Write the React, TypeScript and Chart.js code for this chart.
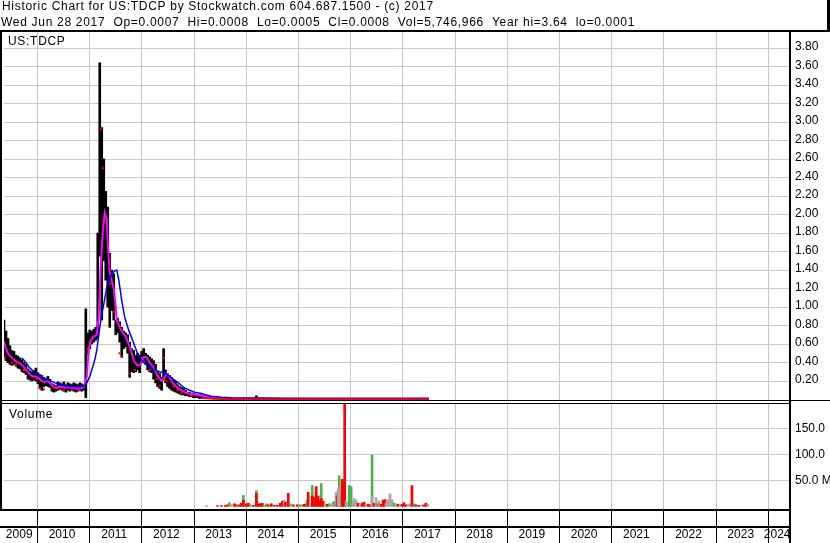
import React, { useEffect, useRef } from 'react';
import { Chart, registerables } from 'chart.js';

Chart.register(...registerables);

// ---------- header text ----------
const titleLine = 'Historic Chart for US:TDCP by Stockwatch.com 604.687.1500 - (c) 2017';
const quoteLine = 'Wed Jun 28 2017  Op=0.0007  Hi=0.0008  Lo=0.0005  Cl=0.0008  Vol=5,746,966  Year hi=3.64  lo=0.0001';
const priceTitle = 'US:TDCP';
const volumeTitle = 'Volume';

// ---------- axis labels ----------
const yearLabels = ['2009', '2010', '2011', '2012', '2013', '2014', '2015', '2016', '2017', '2018', '2019', '2020', '2021', '2022', '2023', '2024'];
const priceTicks = [0.2, 0.4, 0.6, 0.8, 1.0, 1.2, 1.4, 1.6, 1.8, 2.0, 2.2, 2.4, 2.6, 2.8, 3.0, 3.2, 3.4, 3.6, 3.8];
const volumeTicks = [50, 100, 150];

// ---------- price bars (high / low), dates in decimal years ----------
const priceDates = [
  2009.360, 2009.398, 2009.436, 2009.475, 2009.513, 2009.551, 2009.589, 2009.627, 2009.666, 2009.704,
  2009.742, 2009.780, 2009.819, 2009.857, 2009.895, 2009.933, 2009.971, 2010.010, 2010.048, 2010.086,
  2010.124, 2010.162, 2010.201, 2010.239, 2010.277, 2010.315, 2010.353, 2010.392, 2010.430, 2010.468,
  2010.506, 2010.545, 2010.583, 2010.621, 2010.659, 2010.697, 2010.736, 2010.774, 2010.812, 2010.850,
  2010.888, 2010.927, 2010.965, 2011.003, 2011.041, 2011.080, 2011.118, 2011.156, 2011.194, 2011.232,
  2011.271, 2011.309, 2011.347, 2011.385, 2011.423, 2011.462, 2011.500, 2011.538, 2011.576, 2011.615,
  2011.653, 2011.691, 2011.729, 2011.767, 2011.806, 2011.844, 2011.882, 2011.920, 2011.958, 2011.997,
  2012.035, 2012.073, 2012.111, 2012.150, 2012.188, 2012.226, 2012.264, 2012.302, 2012.341, 2012.379,
  2012.417, 2012.455, 2012.493, 2012.532, 2012.570, 2012.608, 2012.646, 2012.685, 2012.723, 2012.761,
  2012.799, 2012.837, 2012.876, 2012.914, 2012.952, 2012.990, 2013.028, 2013.067, 2013.105, 2013.143,
  2013.219, 2013.296, 2013.372, 2013.449, 2013.525, 2013.621, 2013.716, 2013.831, 2013.945, 2014.060,
  2014.194, 2014.327, 2014.480,
];
const priceHigh = [
  0.86, 0.74, 0.66, 0.58, 0.53, 0.52, 0.48, 0.47, 0.45, 0.43,
  0.40, 0.38, 0.33, 0.31, 0.30, 0.31, 0.34, 0.29, 0.27, 0.26,
  0.24, 0.23, 0.25, 0.22, 0.17, 0.16, 0.15, 0.19, 0.18, 0.17,
  0.19, 0.16, 0.18, 0.17, 0.16, 0.18, 0.17, 0.16, 0.18, 0.17,
  0.16, 0.98, 0.72, 0.75, 0.74, 0.76, 0.78, 1.80, 3.64, 2.94,
  2.60, 2.25, 2.08, 1.58, 1.40, 1.36, 0.86, 0.88, 0.84, 0.78,
  0.74, 0.72, 0.70, 0.62, 0.55, 0.53, 0.48, 0.50, 0.48, 0.52,
  0.55, 0.50, 0.48, 0.46, 0.44, 0.42, 0.38, 0.30, 0.28, 0.24,
  0.55, 0.32, 0.28, 0.26, 0.24, 0.21, 0.19, 0.16, 0.14, 0.13,
  0.12, 0.10, 0.08, 0.08, 0.07, 0.07, 0.06, 0.05, 0.05, 0.05,
  0.04, 0.03, 0.03, 0.02, 0.02, 0.015, 0.012, 0.010, 0.010, 0.010,
  0.040, 0.010, 0.008,
];
const priceLow = [
  0.45, 0.42, 0.40, 0.38, 0.37, 0.38, 0.36, 0.34, 0.33, 0.30,
  0.29, 0.27, 0.22, 0.21, 0.20, 0.21, 0.20, 0.17, 0.12, 0.10,
  0.14, 0.15, 0.14, 0.13, 0.09, 0.08, 0.09, 0.10, 0.11, 0.10,
  0.09, 0.08, 0.10, 0.09, 0.10, 0.09, 0.08, 0.09, 0.10, 0.09,
  0.10, 0.02, 0.48, 0.55, 0.60, 0.62, 0.64, 0.66, 1.55, 0.86,
  1.50, 1.29, 1.00, 0.78, 0.96, 0.86, 0.70, 0.72, 0.62, 0.46,
  0.55, 0.57, 0.50, 0.24, 0.30, 0.29, 0.30, 0.32, 0.29, 0.40,
  0.42, 0.38, 0.32, 0.30, 0.29, 0.22, 0.18, 0.14, 0.12, 0.10,
  0.24, 0.18, 0.14, 0.12, 0.10, 0.09, 0.08, 0.07, 0.06, 0.05,
  0.05, 0.04, 0.04, 0.03, 0.03, 0.02, 0.02, 0.02, 0.01, 0.01,
  0.010, 0.010, 0.005, 0.005, 0.004, 0.003, 0.003, 0.003, 0.002, 0.002,
  0.002, 0.002, 0.002,
];

// red close ticks seen on the bars
const closeTickDates = [
  2009.360, 2009.379, 2009.513, 2009.589, 2009.742, 2009.991, 2010.048, 2010.124, 2010.373, 2010.506,
  2010.659, 2010.793, 2010.965, 2011.003, 2011.137, 2011.213, 2011.251, 2011.328, 2011.385, 2011.462,
  2011.576, 2011.615, 2011.767, 2011.863, 2011.997, 2012.150, 2012.283, 2012.341, 2012.417, 2012.474,
  2012.608, 2012.685, 2012.761, 2012.952,
];
const closeTickValues = [
  0.62, 0.45, 0.40, 0.38, 0.32, 0.22, 0.12, 0.11, 0.12, 0.10,
  0.11, 0.10, 0.55, 0.62, 0.72, 2.92, 2.50, 1.95, 1.25, 0.95,
  0.50, 0.46, 0.28, 0.32, 0.45, 0.32, 0.22, 0.15, 0.45, 0.20,
  0.14, 0.10, 0.07, 0.04,
];

// late closes (price near zero, 2013-2017)
const lateCloseDates = [2013.143, 2013.334, 2013.525, 2013.716, 2014.098, 2014.671, 2015.627, 2016.582, 2017.499];
const lateCloseValues = [0.020, 0.010, 0.006, 0.003, 0.002, 0.002, 0.002, 0.002, 0.002];

// short moving average (magenta)
const maShortDates = [
  2009.360, 2009.398, 2009.436, 2009.475, 2009.513, 2009.570, 2009.627, 2009.685, 2009.742, 2009.799,
  2009.857, 2009.914, 2009.971, 2010.029, 2010.086, 2010.143, 2010.201, 2010.258, 2010.315, 2010.373,
  2010.430, 2010.506, 2010.583, 2010.659, 2010.736, 2010.812, 2010.888, 2010.946, 2010.984, 2011.022,
  2011.080, 2011.137, 2011.175, 2011.213, 2011.251, 2011.290, 2011.328, 2011.347, 2011.385, 2011.423,
  2011.462, 2011.500, 2011.519, 2011.576, 2011.634, 2011.691, 2011.748, 2011.806, 2011.863, 2011.920,
  2011.977, 2012.035, 2012.092, 2012.150, 2012.207, 2012.264, 2012.321, 2012.379, 2012.417, 2012.474,
  2012.532, 2012.589, 2012.646, 2012.704, 2012.761, 2012.857, 2012.952, 2013.047, 2013.143, 2013.334,
  2013.525, 2013.812, 2014.194, 2014.671, 2015.436, 2016.582, 2017.499,
];
const maShortValues = [
  0.62, 0.55, 0.50, 0.47, 0.45, 0.42, 0.40, 0.38, 0.35, 0.31,
  0.27, 0.25, 0.25, 0.23, 0.20, 0.19, 0.20, 0.17, 0.13, 0.13,
  0.14, 0.13, 0.13, 0.13, 0.12, 0.12, 0.13, 0.25, 0.55, 0.64,
  0.68, 0.70, 0.90, 1.45, 1.80, 2.02, 1.95, 1.70, 1.38, 1.28,
  1.20, 1.00, 0.86, 0.78, 0.72, 0.68, 0.60, 0.50, 0.40, 0.37,
  0.38, 0.46, 0.46, 0.40, 0.36, 0.30, 0.24, 0.20, 0.22, 0.28,
  0.24, 0.18, 0.15, 0.12, 0.10, 0.07, 0.06, 0.05, 0.04, 0.025,
  0.015, 0.010, 0.012, 0.008, 0.006, 0.005, 0.005,
];

// long moving average (blue)
const maLongDates = [
  2009.704, 2009.780, 2009.838, 2009.895, 2009.952, 2010.029, 2010.086, 2010.162, 2010.220, 2010.334,
  2010.468, 2010.602, 2010.736, 2010.850, 2010.908, 2010.946, 2011.003, 2011.041, 2011.099, 2011.137,
  2011.194, 2011.232, 2011.271, 2011.328, 2011.385, 2011.423, 2011.481, 2011.519, 2011.557, 2011.615,
  2011.672, 2011.748, 2011.844, 2011.939, 2012.054, 2012.150, 2012.245, 2012.341, 2012.436, 2012.532,
  2012.627, 2012.723, 2012.818, 2012.914, 2013.009, 2013.143, 2013.238, 2013.334, 2013.525, 2013.716,
  2014.003, 2014.289, 2014.671, 2015.436, 2016.582, 2017.499,
];
const maLongValues = [
  0.45, 0.40, 0.35, 0.32, 0.30, 0.27, 0.24, 0.22, 0.21, 0.18,
  0.16, 0.14, 0.14, 0.14, 0.15, 0.18, 0.25, 0.32, 0.43, 0.53,
  0.78, 0.92, 1.03, 1.21, 1.30, 1.36, 1.39, 1.40, 1.30, 1.07,
  0.89, 0.75, 0.61, 0.46, 0.39, 0.35, 0.32, 0.30, 0.29, 0.25,
  0.21, 0.17, 0.125, 0.10, 0.08, 0.065, 0.05, 0.035, 0.025, 0.02,
  0.017, 0.016, 0.015, 0.015, 0.015, 0.015,
];

// ---------- volume (millions), direction: u = up, d = down, n = unchanged ----------
const volumeDates = [
  2013.239, 2013.449, 2013.525, 2013.601, 2013.640, 2013.678, 2013.716, 2013.773, 2013.812, 2013.869,
  2013.907, 2013.945, 2013.945, 2014.003, 2014.041, 2014.079, 2014.136, 2014.194, 2014.194, 2014.232,
  2014.270, 2014.308, 2014.347, 2014.385, 2014.423, 2014.480, 2014.538, 2014.595, 2014.652, 2014.691,
  2014.729, 2014.748, 2014.786, 2014.805, 2014.843, 2014.901, 2014.977, 2015.034, 2015.073, 2015.111,
  2015.149, 2015.168, 2015.187, 2015.226, 2015.264, 2015.264, 2015.302, 2015.340, 2015.378, 2015.397,
  2015.436, 2015.436, 2015.474, 2015.512, 2015.550, 2015.589, 2015.627, 2015.665, 2015.684, 2015.722,
  2015.741, 2015.760, 2015.780, 2015.780, 2015.799, 2015.837, 2015.856, 2015.885, 2015.913, 2015.952,
  2015.971, 2016.009, 2016.047, 2016.066, 2016.104, 2016.143, 2016.181, 2016.219, 2016.257, 2016.295,
  2016.334, 2016.372, 2016.410, 2016.410, 2016.448, 2016.487, 2016.525, 2016.544, 2016.582, 2016.620,
  2016.658, 2016.678, 2016.716, 2016.754, 2016.792, 2016.830, 2016.869, 2016.907, 2016.945, 2016.983,
  2017.021, 2017.060, 2017.098, 2017.136, 2017.174, 2017.213, 2017.251, 2017.308, 2017.365, 2017.404,
  2017.442, 2017.480,
];
const volumeValues = [
  1, 1.5, 1.5, 2, 3, 7, 3, 5, 3, 3,
  6, 21, 12, 5, 6, 3, 2, 30, 25, 5,
  5, 6, 2, 5, 3, 5, 2, 2, 6, 10,
  12, 8, 4, 25, 5, 3, 3, 3, 3, 4,
  5, 12, 27, 6, 40, 20, 17, 38, 20, 13,
  44, 15, 10, 5, 4, 5, 5, 8, 9, 27,
  20, 35, 59, 35, 38, 52, 48, 230, 10, 8,
  40, 38, 10, 15, 12, 6, 4, 6, 8, 3,
  4, 3, 99, 19, 6, 17, 5, 10, 4, 12,
  13, 6, 13, 24, 13, 6, 5, 4, 3, 4,
  7, 3, 4, 5, 40, 5, 3, 2, 2, 3,
  6, 4,
];
const volumeDirections = [
  'u', 'd', 'd', 'd', 'd', 'u', 'n', 'd', 'd', 'd',
  'd', 'u', 'd', 'd', 'd', 'u', 'd', 'u', 'd', 'd',
  'd', 'd', 'u', 'u', 'd', 'd', 'd', 'd', 'd', 'd',
  'n', 'd', 'u', 'd', 'u', 'd', 'd', 'u', 'u', 'd',
  'd', 'u', 'd', 'n', 'u', 'd', 'd', 'd', 'd', 'd',
  'u', 'd', 'd', 'n', 'd', 'u', 'n', 'n', 'u', 'n',
  'd', 'n', 'u', 'n', 'n', 'd', 'd', 'd', 'n', 'n',
  'u', 'u', 'n', 'n', 'n', 'd', 'n', 'd', 'd', 'n',
  'd', 'd', 'u', 'n', 'd', 'n', 'd', 'n', 'd', 'd',
  'd', 'n', 'n', 'n', 'n', 'u', 'n', 'd', 'n', 'd',
  'd', 'd', 'n', 'n', 'd', 'u', 'd', 'd', 'n', 'd',
  'd', 'n',
];

// ---------- axis ranges ----------
const X_MIN = 2009.36;
const X_MAX = 2024.396;
const PRICE_MIN = -0.016;
const PRICE_MAX = 3.973;
const VOL_MIN = -7;
const VOL_MAX = 202.6;

const FONT = '"Liberation Sans", Arial, Helvetica, sans-serif';
const GRID = '#c8c8c8';
const DIR_COLORS: Record<string, string> = { u: '#4fb04f', d: '#ff0000', n: '#a8a8a8' };

const framePlugin = {
  id: 'stockFrame',
  beforeDatasetsDraw(chart: any) {
    const { ctx, chartArea, scales } = chart;
    const x = scales.x;
    ctx.save();
    ctx.fillStyle = GRID;
    for (let yr = Math.ceil(X_MIN); yr <= X_MAX; yr++) {
      const px = Math.floor(x.getPixelForValue(yr));
      ctx.fillRect(px, chartArea.top, 1, chartArea.bottom - chartArea.top);
    }
    ctx.restore();
  },
  afterDraw(chart: any) {
    const { ctx, chartArea, scales, width, height } = chart;
    const x = scales.x;
    const right = chartArea.right;
    ctx.save();
    // header
    ctx.fillStyle = '#000';
    ctx.fillRect(0, 30, width, 2);
    ctx.fillRect(width - 3, 0, 3, 31);
    ctx.font = '12px ' + FONT;
    ctx.textBaseline = 'alphabetic';
    ctx.textAlign = 'left';
    (ctx as any).letterSpacing = '0.7px';
    ctx.fillText(titleLine, 2, 10);
    ctx.fillText(quoteLine, 1, 26);
    // panel separators
    ctx.fillStyle = '#fff';
    ctx.fillRect(0, 401, right, 2);
    ctx.fillStyle = '#000';
    ctx.fillRect(0, 400, width, 1);
    ctx.fillRect(0, 403, right, 1);
    ctx.fillRect(0, 509, right, 2);
    ctx.fillRect(0, 526, right, 2);
    // left border and axis separator
    ctx.fillRect(0, 31, 2, 479);
    ctx.fillRect(right, 31, 2, height - 31);
    // year dividers in the bottom rows
    for (let yr = Math.ceil(X_MIN); yr <= X_MAX; yr++) {
      const px = Math.floor(x.getPixelForValue(yr));
      ctx.fillRect(px, 511, 1, height - 511);
    }
    // panel titles
    ctx.fillText(priceTitle, 8, 45);
    ctx.fillText(volumeTitle, 9, 418);
    (ctx as any).letterSpacing = '0px';
    ctx.restore();
  },
};

export default function App() {
  const ref = useRef<HTMLCanvasElement>(null);

  useEffect(() => {
    document.body.style.margin = '0';
    const canvas = ref.current;
    if (!canvas) return;

    const pts = (xs: number[], ys: any[]) => xs.map((d, i) => ({ x: d, y: ys[i] }));

    const chart = new Chart(canvas, {
      type: 'bar',
      data: {
        datasets: [
          {
            type: 'line',
            label: 'Late close',
            data: pts(lateCloseDates, lateCloseValues),
            borderColor: '#ff0000',
            borderWidth: 2,
            pointRadius: 0,
            tension: 0,
            yAxisID: 'y',
            order: 0,
          },
          {
            type: 'line',
            label: 'MA long',
            data: pts(maLongDates, maLongValues),
            borderColor: '#0000ff',
            borderWidth: 1.5,
            pointRadius: 0,
            tension: 0,
            yAxisID: 'y',
            order: 1,
          },
          {
            type: 'line',
            label: 'MA short',
            data: pts(maShortDates, maShortValues),
            borderColor: '#ff00ff',
            borderWidth: 2,
            pointRadius: 0,
            tension: 0,
            yAxisID: 'y',
            order: 2,
          },
          {
            type: 'line',
            label: 'Close',
            data: pts(closeTickDates, closeTickValues),
            showLine: false,
            pointStyle: 'rect',
            pointRadius: 1.5,
            pointBackgroundColor: '#ff0000',
            pointBorderWidth: 0,
            yAxisID: 'y',
            order: 3,
          },
          {
            type: 'bar',
            label: 'Range',
            data: priceDates.map((d, i) => ({ x: d, y: [priceLow[i], priceHigh[i]] })),
            backgroundColor: '#000',
            barThickness: 2,
            grouped: false,
            yAxisID: 'y',
            order: 4,
          },
          {
            type: 'bar',
            label: 'Volume',
            data: pts(volumeDates, volumeValues),
            backgroundColor: volumeDirections.map((d) => DIR_COLORS[d]),
            barThickness: 2,
            grouped: false,
            yAxisID: 'yv',
            order: 5,
          },
        ] as any,
      },
      options: {
        responsive: false,
        animation: false,
        devicePixelRatio: 1,
        events: [],
        layout: { padding: { top: 32, left: 2, right: 0, bottom: 0 } },
        plugins: { legend: { display: false }, tooltip: { enabled: false } },
        scales: {
          x: {
            type: 'linear',
            position: 'bottom',
            min: X_MIN,
            max: X_MAX,
            offset: false,
            grid: { display: false, drawTicks: false, offset: false },
            border: { display: false },
            afterBuildTicks: (s: any) => {
              s.ticks = yearLabels.map((y) => {
                const yr = Number(y);
                const lo = Math.max(yr, X_MIN);
                const hi = Math.min(yr + 1, X_MAX);
                return { value: (lo + hi) / 2 };
              });
            },
            afterFit: (s: any) => {
              s.height = 33;
              s.paddingLeft = 0;
              s.paddingRight = 0;
            },
            ticks: {
              autoSkip: false,
              maxRotation: 0,
              minRotation: 0,
              padding: 17,
              labelOffset: -1.5,
              color: '#000',
              font: { family: FONT, size: 12 },
              callback: (_v: any, i: number) => yearLabels[i],
            },
          },
          y: {
            type: 'linear',
            position: 'right',
            stack: 'panels',
            stackWeight: 369,
            min: PRICE_MIN,
            max: PRICE_MAX,
            grid: { color: GRID, lineWidth: 1, drawTicks: false },
            border: { display: false },
            afterBuildTicks: (s: any) => {
              s.ticks = priceTicks.map((v) => ({ value: v }));
            },
            afterFit: (s: any) => {
              s.width = 41;
              s.paddingTop = 0;
              s.paddingBottom = 0;
            },
            ticks: {
              autoSkip: false,
              padding: 6,
              labelOffset: -1,
              color: '#000',
              font: { family: FONT, size: 12 },
              callback: (v: any) => Number(v).toFixed(2),
            },
          },
          yv: {
            type: 'linear',
            position: 'right',
            stack: 'panels',
            stackWeight: 109,
            min: VOL_MIN,
            max: VOL_MAX,
            grid: { color: GRID, lineWidth: 1, drawTicks: false },
            border: { display: false },
            afterBuildTicks: (s: any) => {
              s.ticks = volumeTicks.map((v) => ({ value: v }));
            },
            afterFit: (s: any) => {
              s.width = 41;
              s.paddingTop = 0;
              s.paddingBottom = 0;
            },
            ticks: {
              autoSkip: false,
              padding: 6,
              color: '#000',
              font: { family: FONT, size: 12 },
              callback: (v: any) => {
                const n = Number(v);
                return n === volumeTicks[0] ? n.toFixed(1) + ' M' : n.toFixed(1);
              },
            },
          },
        } as any,
      },
      plugins: [framePlugin],
    } as any);

    return () => chart.destroy();
  }, []);

  return <canvas ref={ref} width={830} height={543} style={{ display: 'block' }} />;
}
